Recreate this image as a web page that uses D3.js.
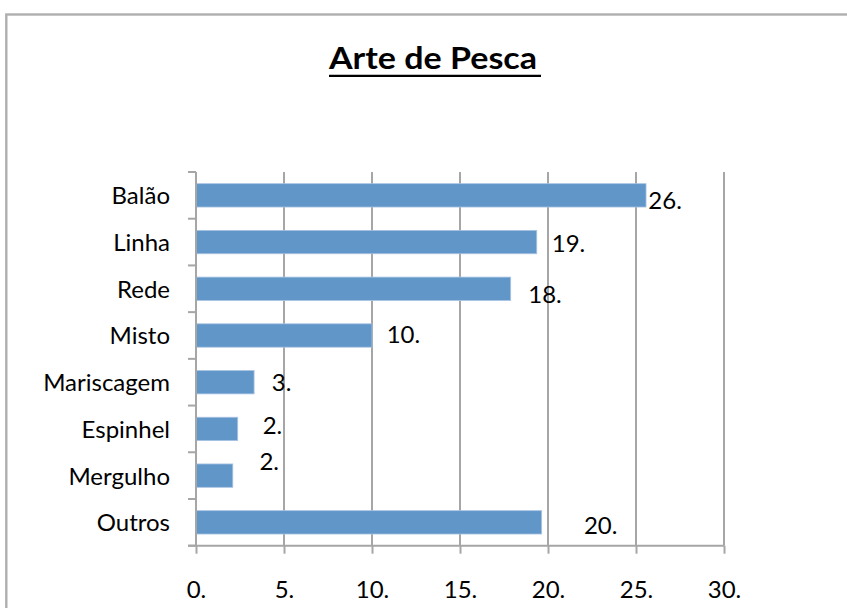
<!DOCTYPE html>
<html>
<head>
<meta charset="utf-8">
<script src="https://cdn.jsdelivr.net/npm/d3@7"></script>
<style>
  html, body { margin: 0; padding: 0; background: #fff; }
  svg { display: block; }
  text { font-family: Lato, "Open Sans", sans-serif; fill: #000; }
</style>
</head>
<body>
<svg id="chart" width="847" height="608"></svg>
<script>
// ---- data ----
const categories = ["Balão", "Linha", "Rede", "Misto", "Mariscagem", "Espinhel", "Mergulho", "Outros"];
const values = [25.57, 19.36, 17.88, 10.0, 3.3, 2.37, 2.09, 19.64];
const valueLabels = ["26.", "19.", "18.", "10.", "3.", "2.", "2.", "20."];
const xTicks = [0, 5, 10, 15, 20, 25, 30];
const chartTitle = "Arte de Pesca";
// manual label offsets (px) relative to bar end / band centre, as in the source
const labelDx = [2.3, 15, 17.6, 14.7, 17.7, 25, 26.6, 42.3];
const labelDy = [13.8, 10, 14, 8, 8.3, 5, -5.3, 11.3];

// ---- layout ----
const svg = d3.select("#chart");
const plotLeft = 196, plotRight = 724, plotTop = 172, plotBottom = 545.7;
const gridColor = "#a6a6a6";
const barColor = "#6196c9";

// frame
svg.append("rect")
  .attr("x", 6.3).attr("y", 14.5)
  .attr("width", 1000).attr("height", 1000)
  .attr("fill", "none").attr("stroke", "#afafaf").attr("stroke-width", 2.4);

// title
const t = svg.append("text")
  .attr("x", 433).attr("y", 69.3)
  .attr("text-anchor", "middle")
  .attr("font-size", 30).attr("font-weight", "bold")
  .text(chartTitle);
t.attr("textLength", 208).attr("lengthAdjust", "spacingAndGlyphs");
svg.append("line")
  .attr("x1", 329).attr("x2", 541).attr("y1", 75.8).attr("y2", 75.8)
  .attr("stroke", "#000").attr("stroke-width", 2.2);

// scales
const x = d3.scaleLinear().domain([0, 30]).range([plotLeft, plotRight]);
const y = d3.scaleBand().domain(categories).range([plotTop, plotBottom]).paddingInner(0.5).paddingOuter(0.25);

// gridlines
svg.append("g").selectAll("line").data(xTicks).join("line")
  .attr("x1", d => x(d)).attr("x2", d => x(d))
  .attr("y1", plotTop).attr("y2", plotBottom)
  .attr("stroke", gridColor).attr("stroke-width", 2);

// bars
svg.append("g").selectAll("rect").data(categories).join("rect")
  .attr("x", x(0))
  .attr("y", d => y(d))
  .attr("width", (d, i) => x(values[i]) - x(0))
  .attr("height", y.bandwidth())
  .attr("fill", barColor)
  .attr("stroke", "#a8c3e3").attr("stroke-width", 0.8);

// x axis
const xAxis = d3.axisBottom(x).tickValues(xTicks).tickFormat(d => d + ".")
  .tickSize(8).tickSizeOuter(0).tickPadding(27);
const gx = svg.append("g").attr("transform", `translate(0,${plotBottom})`).call(xAxis);
gx.select(".domain").attr("stroke", gridColor).attr("stroke-width", 2)
  .attr("d", `M${plotLeft - 8},0H${plotRight}`);
gx.selectAll(".tick line").attr("stroke", gridColor).attr("stroke-width", 2);
gx.selectAll(".tick text").attr("font-size", 24).attr("font-family", "Lato, sans-serif").attr("fill", "#000");

// y axis
const yAxis = d3.axisLeft(y).tickSize(0).tickPadding(26);
const gy = svg.append("g").attr("transform", `translate(${plotLeft},0)`).call(yAxis);
gy.select(".domain").attr("stroke", gridColor).attr("stroke-width", 2)
  .attr("d", `M0,${plotTop}V${plotBottom}`);
gy.selectAll(".tick text").attr("font-size", 24).attr("dy", "0.37em")
  .attr("font-family", "Lato, sans-serif").attr("fill", "#000");
const step = y.step();
const bounds = categories.map(c => y(c) - step * 0.25).concat([plotBottom]);
gy.append("g").selectAll("line").data(bounds).join("line")
  .attr("x1", -8).attr("x2", 0)
  .attr("y1", d => d).attr("y2", d => d)
  .attr("stroke", gridColor).attr("stroke-width", 2);

// data labels
svg.append("g").selectAll("text").data(categories).join("text")
  .attr("x", (d, i) => x(values[i]) + labelDx[i])
  .attr("y", (d, i) => y(d) + y.bandwidth() / 2 + labelDy[i])
  .attr("font-size", 24)
  .text((d, i) => valueLabels[i]);
</script>
</body>
</html>
